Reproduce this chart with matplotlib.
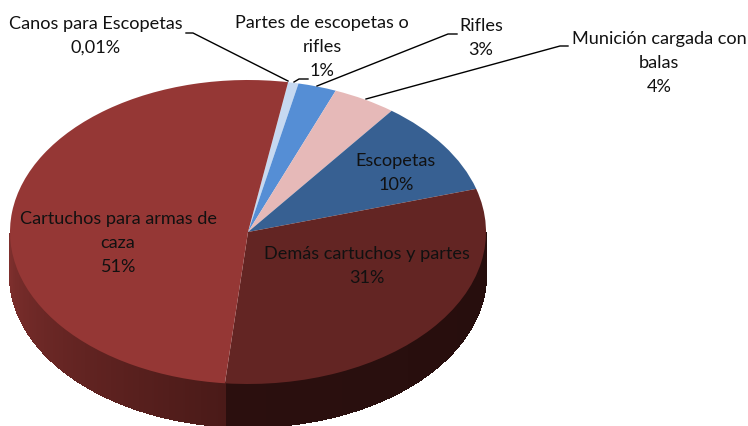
import numpy as np
import matplotlib
matplotlib.use("Agg")
import matplotlib.pyplot as plt

# slice shares, clockwise from the top
categories = ["Canos para Escopetas", "Partes de escopetas o rifles", "Rifles",
              "Munición cargada con balas", "Escopetas",
              "Demás cartuchos y partes", "Cartuchos para armas de caza"]
shares = [0.01, 0.7, 2.6, 4.3, 10.1, 31.1, 51.1]
pct_labels = ["0,01%", "1%", "3%", "4%", "10%", "31%", "51%"]

top_colors = ["#4F81BD", "#C6D9F1", "#558ED5", "#E6B9B8", "#376092", "#632523", "#953735"]
wall_left = {5: "#260E0D", 6: "#4A1A18"}
wall_right = {5: "#2B0F0E", 6: "#7E2F2D"}

W, H = 748, 426
cx, cy, rx, ry = 248, 232, 238, 152
depth = 43 / ry

plt.rcParams['font.family'] = ['Lato', 'DejaVu Sans']

fig = plt.figure(figsize=(W / 100, H / 100), dpi=100)
ax = fig.add_axes([0, 0, 1, 1])

wedges, _ = ax.pie(shares, colors=top_colors, startangle=80.3, counterclock=False,
                   radius=1, center=(0, 0), wedgeprops={'linewidth': 0})
ax.set_aspect('auto')
ax.set_xlim(-cx / rx, (W - cx) / rx)
ax.set_ylim((cy - H) / ry, cy / ry)


def px(x, y):
    return (x - cx) / rx, (cy - y) / ry


# side wall of the pie, only the part facing the viewer
start = 80.3
for i, s in enumerate(shares):
    end = start - s / sum(shares) * 360
    if i in wall_left:
        t = np.arange(start, end - 0.5, -0.5)
        t = np.clip(t, end, start)
        t = t[np.sin(np.radians(t)) <= 0]
        c0 = np.array(matplotlib.colors.to_rgb(wall_left[i]))
        c1 = np.array(matplotlib.colors.to_rgb(wall_right[i]))
        for k in range(len(t) - 1):
            a = np.radians([t[k], t[k + 1]])
            xs = np.cos(a)
            ys = np.sin(a)
            col = c0 + (c1 - c0) * k / (len(t) - 2)
            ax.fill([xs[0], xs[1], xs[1], xs[0]],
                    [ys[0], ys[1], ys[1] - depth, ys[0] - depth],
                    color=col, lw=0.8, antialiased=False, zorder=0.5)
    start = end

# leader lines
leaders = [
    [(288, 81), (193, 33), (186, 33)],
    [(294, 82), (299, 79), (308, 79)],
    [(317, 86), (448, 34), (457, 34)],
    [(366, 99), (560, 46), (568, 46)],
]
for pts in leaders:
    d = np.array([px(*p) for p in pts])
    ax.plot(d[:, 0], d[:, 1], color="black", lw=1.0, zorder=3)

# labels: text, centre x, centre y
labels = [
    ("Canos para Escopetas\n" + pct_labels[0], 96, 36),
    ("Partes de escopetas o\nrifles\n" + pct_labels[1], 322, 47),
    ("Rifles\n" + pct_labels[2], 481, 38),
    ("Munición cargada con\nbalas\n" + pct_labels[3], 659, 63),
    ("Escopetas\n" + pct_labels[4], 396, 173),
    ("Demás cartuchos y partes\n" + pct_labels[5], 367, 266),
    ("Cartuchos para armas de\ncaza\n" + pct_labels[6], 118, 243),
]
for txt, x, y in labels:
    lx, ly = px(x, y)
    ax.text(lx, ly, txt, ha='center', va='center', fontsize=13.1,
            color="#111111", linespacing=1.58, zorder=4)

fig.savefig("out.png", dpi=100)
